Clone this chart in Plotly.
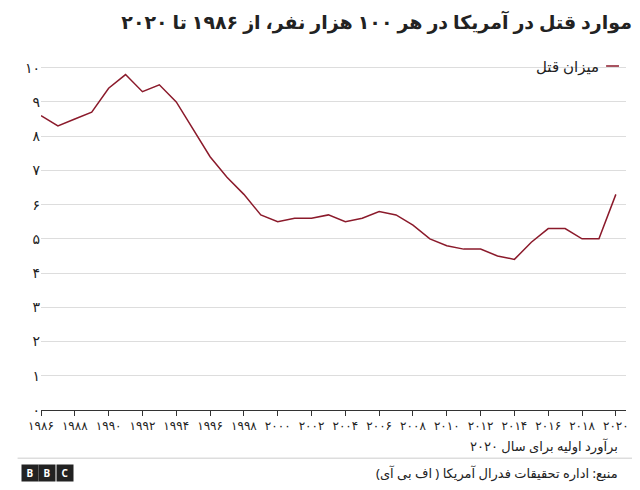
import plotly.graph_objects as go

years = list(range(1986, 2021))
rate = [8.6, 8.3, 8.5, 8.7, 9.4, 9.8, 9.3, 9.5, 9.0, 8.2, 7.4, 6.8, 6.3, 5.7, 5.5, 5.6, 5.6, 5.7, 5.5, 5.6, 5.8, 5.7, 5.4, 5.0, 4.8, 4.7, 4.7, 4.5, 4.4, 4.9, 5.3, 5.3, 5.0, 5.0, 6.3]
fa = str.maketrans("0123456789", "۰۱۲۳۴۵۶۷۸۹")
xtick_vals = list(range(1986, 2021, 2))
xtick_text = [str(v).translate(fa) for v in xtick_vals]
ytick_vals = list(range(0, 11))
ytick_text = [str(v).translate(fa) for v in ytick_vals]
F = "Noto Sans, DejaVu Sans"

fig = go.Figure(go.Scatter(x=years, y=rate, mode="lines", line=dict(color="#8b1a2b", width=1.5), name="میزان قتل"))
fig.update_layout(
    width=640, height=490, margin=dict(l=33, r=22, t=58, b=88),
    paper_bgcolor="white", plot_bgcolor="white", showlegend=False,
    font=dict(family=F, color="#222", size=13),
    xaxis=dict(tickvals=xtick_vals, ticktext=xtick_text, range=[1986, 2020.6], showgrid=False,
               showline=True, linecolor="#333", ticks="outside", ticklen=5, tickcolor="#333", tickangle=0, tickfont=dict(size=12)),
    yaxis=dict(tickvals=ytick_vals, ticktext=ytick_text, range=[0, 10.05], gridcolor="#dddddd",
               zeroline=False, ticks="", tickfont=dict(size=14)),
    title=dict(text="<b>موارد قتل در آمریکا در هر ۱۰۰ هزار نفر، از ۱۹۸۶ تا ۲۰۲۰</b>", x=0.975, xanchor="right", y=0.985, yanchor="top", font=dict(size=19)),
    shapes=[
        dict(type="line", xref="paper", yref="paper", x0=0.966, x1=0.988, y0=1.0, y1=1.0, line=dict(color="#8b1a2b", width=1.5)),
        dict(type="line", xref="paper", yref="paper", x0=-0.04, x1=1.02, y0=-0.14, y1=-0.14, line=dict(color="#ccc", width=1)),
    ],
    annotations=[
        dict(text="میزان قتل", xref="paper", yref="paper", x=0.958, y=1.0, xanchor="right", yanchor="middle", showarrow=False, font=dict(size=15)),
        dict(text="برآورد اولیه برای سال ۲۰۲۰", xref="paper", yref="paper", x=0.99, y=-0.105, xanchor="right", yanchor="middle", showarrow=False, font=dict(size=13)),
        dict(text="منبع: اداره تحقیقات فدرال آمریکا ( اف بی آی)", xref="paper", yref="paper", x=0.99, y=-0.183, xanchor="right", yanchor="middle", showarrow=False, font=dict(size=13)),
        dict(text="<b>B</b>", xref="paper", yref="paper", x=-0.035, y=-0.183, xanchor="left", yanchor="middle", showarrow=False, font=dict(size=10, color="white"), bgcolor="#222", width=14),
        dict(text="<b>B</b>", xref="paper", yref="paper", x=-0.005, y=-0.183, xanchor="left", yanchor="middle", showarrow=False, font=dict(size=10, color="white"), bgcolor="#222", width=14),
        dict(text="<b>C</b>", xref="paper", yref="paper", x=0.025, y=-0.183, xanchor="left", yanchor="middle", showarrow=False, font=dict(size=10, color="white"), bgcolor="#222", width=14),
    ],
)
fig.write_html("out.html")
